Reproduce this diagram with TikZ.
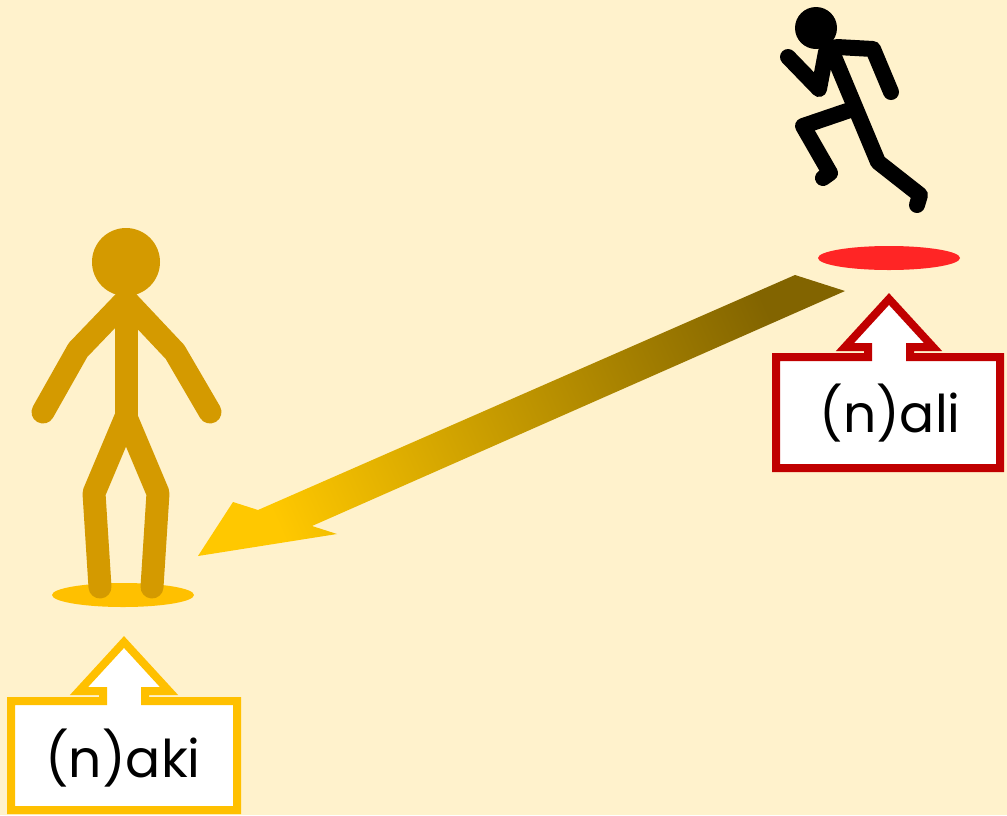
\documentclass[tikz,border=0pt]{standalone}
\usepackage{fontspec}
\setmainfont{Poppins}
\usetikzlibrary{shapes.geometric}
\definecolor{paper}{HTML}{FFF2CC}
\definecolor{gold}{HTML}{D49A00}
\definecolor{amber}{HTML}{FFC000}
\definecolor{darkred}{HTML}{C00000}
\definecolor{spotred}{HTML}{FF2525}
\definecolor{olive}{HTML}{826400}
\definecolor{sun}{HTML}{FFC800}
\begin{document}
\begin{tikzpicture}[x=1pt,y=-1pt]
        \tikzstyle{limb}=[line cap=round, line join=round]
        \tikzstyle{spot}=[ellipse, minimum width=142pt, minimum height=24pt, inner sep=0pt]
        \tikzstyle{callout}=[fill=white, line width=8pt, miter limit=10]
        \tikzstyle{tag}=[font=\fontsize{52}{52}\selectfont, inner sep=0pt]
        \fill[paper] (0,0) rectangle (1007,815);
        \useasboundingbox (0,0) rectangle (1007,815);
        % spots on the ground
        \node[spot, fill=spotred] (spotali) at (889,258) {};
        \node[spot, fill=amber] (spotaki) at (123,595) {};
        % the runner
        \begin{scope}[limb, line width=16pt, draw=black]
            \fill (816,28) circle (21);
            \draw (830,47) -- (878,162) -- (920,195) -- (917,205);
            \draw (837,47) -- (873,49) -- (891,92);
            \draw (788,57) -- (819,89) -- (826,52);
            \draw (850,110) -- (803,126) -- (830,173) -- (823,178);
        \end{scope}
        % the one standing
        \begin{scope}[limb, line width=23pt, draw=gold]
            \fill[gold] (126,262) circle (34);
            \draw (126,300) -- (126,417);
            \draw (43,412) -- (78,350) -- (126,300) -- (175,352) -- (210,412);
            \draw (100,587) -- (94,493) -- (126,417) -- (158,493) -- (152,587);
        \end{scope}
        % the move
        \shade[top color=sun, bottom color=olive, shading angle=113.6]
            (795,275) -- (845,291) -- (312,526) -- (337,534) -- (198,556) -- (233,502) -- (258,510) -- cycle;
        % callouts
        \draw[callout, draw=darkred] (776,357) -- (868,357) -- (868,347) -- (845,347) -- (889,299) -- (933,347)
            -- (910,347) -- (910,357) -- (1000,357) -- (1000,468) -- (776,468) -- cycle;
        \node[tag] (ali) at (890,413) {(n)ali};
        \draw[callout, draw=amber] (11,701) -- (103,701) -- (103,691) -- (79,691) -- (124,642) -- (169,691)
            -- (145,691) -- (145,701) -- (237,701) -- (237,810) -- (11,810) -- cycle;
        \node[tag] (aki) at (123,758) {(n)aki};
\end{tikzpicture}
\end{document}
